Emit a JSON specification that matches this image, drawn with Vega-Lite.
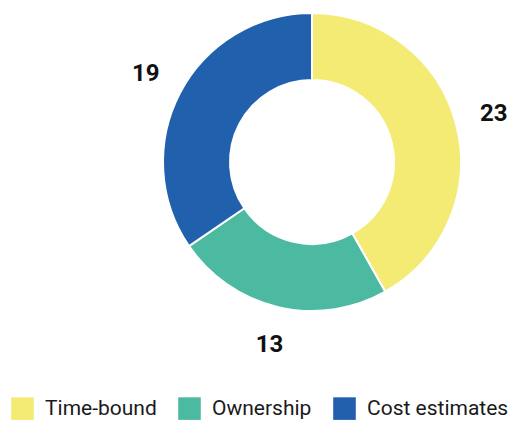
{
  "$schema": "https://vega.github.io/schema/vega-lite/v6.json",
  "autosize": "none",
  "width": 300,
  "height": 300,
  "padding": {"left": 162, "top": 12, "right": 49, "bottom": 109},
  "background": "white",
  "data": {"values": [
    {"category": "Time-bound", "value": 23, "order": 1},
    {"category": "Ownership", "value": 13, "order": 2},
    {"category": "Cost estimates", "value": 19, "order": 3}
  ]},
  "encoding": {
    "theta": {"field": "value", "type": "quantitative", "stack": true},
    "order": {"field": "order", "type": "quantitative"},
    "color": {
      "field": "category", "type": "nominal",
      "scale": {"domain": ["Time-bound", "Ownership", "Cost estimates"], "range": ["#F4EB75", "#4CBAA0", "#2160AD"]},
      "legend": {
        "title": null, "orient": "none", "direction": "horizontal",
        "legendX": -151, "legendY": 385,
        "symbolType": "square", "symbolSize": 510, "symbolStrokeWidth": 0, "symbolOpacity": 1,
        "labelFont": "Roboto", "labelFontSize": 21, "labelColor": "#1a1a1a",
        "labelOffset": 11, "columnPadding": 21, "padding": 0
      }
    }
  },
  "layer": [
    {"mark": {"type": "arc", "outerRadius": 149, "innerRadius": 82, "stroke": "white", "strokeWidth": 2}},
    {"mark": {"type": "text", "radius": 188, "font": "Roboto", "fontSize": 24, "fontWeight": "bold", "fill": "#111", "align": "center", "baseline": "middle"},
     "encoding": {"text": {"field": "value", "type": "quantitative"}, "color": {"value": "#111"}}}
  ],
  "config": {"view": {"stroke": null}}
}
